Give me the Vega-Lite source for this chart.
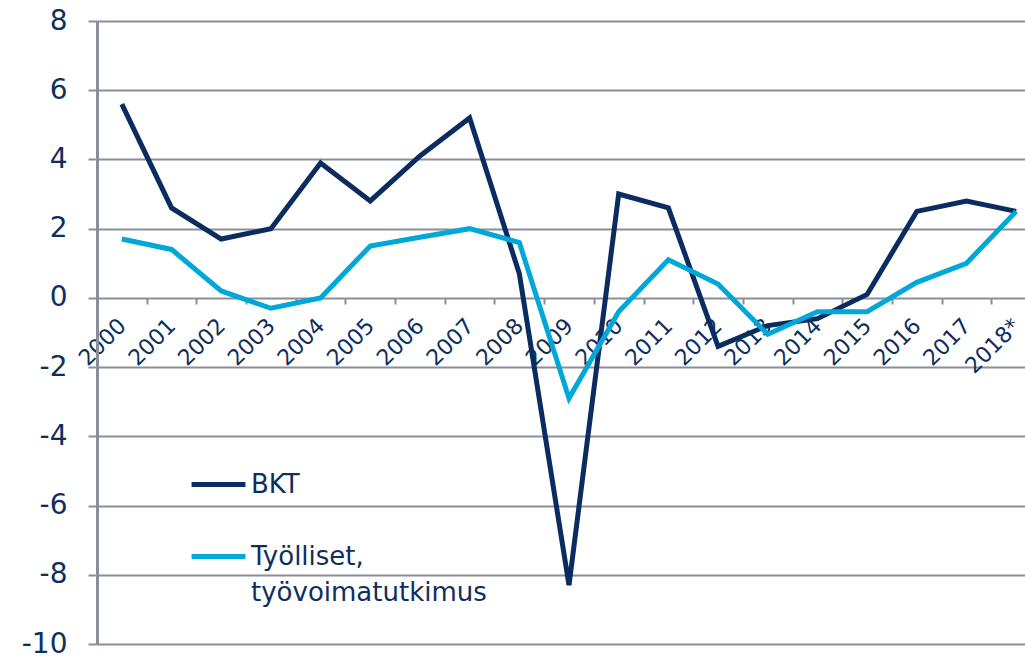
{
  "$schema": "https://vega.github.io/schema/vega-lite/v6.json",
  "autosize": "none",
  "padding": {"left": 97, "top": 21, "right": 0, "bottom": 17},
  "width": 944,
  "height": 623,
  "background": "white",
  "config": {
    "view": {"stroke": null},
    "font": "DejaVu Sans"
  },
  "data": {
    "values": [
      {"year": "2000", "series": "BKT", "value": 5.6},
      {"year": "2001", "series": "BKT", "value": 2.6},
      {"year": "2002", "series": "BKT", "value": 1.7},
      {"year": "2003", "series": "BKT", "value": 2.0},
      {"year": "2004", "series": "BKT", "value": 3.9},
      {"year": "2005", "series": "BKT", "value": 2.8},
      {"year": "2006", "series": "BKT", "value": 4.1},
      {"year": "2007", "series": "BKT", "value": 5.2},
      {"year": "2008", "series": "BKT", "value": 0.7},
      {"year": "2009", "series": "BKT", "value": -8.3},
      {"year": "2010", "series": "BKT", "value": 3.0},
      {"year": "2011", "series": "BKT", "value": 2.6},
      {"year": "2012", "series": "BKT", "value": -1.4},
      {"year": "2013", "series": "BKT", "value": -0.8},
      {"year": "2014", "series": "BKT", "value": -0.6},
      {"year": "2015", "series": "BKT", "value": 0.1},
      {"year": "2016", "series": "BKT", "value": 2.5},
      {"year": "2017", "series": "BKT", "value": 2.8},
      {"year": "2018*", "series": "BKT", "value": 2.5},
      {"year": "2000", "series": "Työlliset", "value": 1.7},
      {"year": "2001", "series": "Työlliset", "value": 1.4},
      {"year": "2002", "series": "Työlliset", "value": 0.2},
      {"year": "2003", "series": "Työlliset", "value": -0.3},
      {"year": "2004", "series": "Työlliset", "value": 0.0},
      {"year": "2005", "series": "Työlliset", "value": 1.5},
      {"year": "2006", "series": "Työlliset", "value": 1.75},
      {"year": "2007", "series": "Työlliset", "value": 2.0},
      {"year": "2008", "series": "Työlliset", "value": 1.6},
      {"year": "2009", "series": "Työlliset", "value": -2.9},
      {"year": "2010", "series": "Työlliset", "value": -0.4},
      {"year": "2011", "series": "Työlliset", "value": 1.1},
      {"year": "2012", "series": "Työlliset", "value": 0.4},
      {"year": "2013", "series": "Työlliset", "value": -1.05},
      {"year": "2014", "series": "Työlliset", "value": -0.4},
      {"year": "2015", "series": "Työlliset", "value": -0.4},
      {"year": "2016", "series": "Työlliset", "value": 0.45},
      {"year": "2017", "series": "Työlliset", "value": 1.0},
      {"year": "2018*", "series": "Työlliset", "value": 2.5}
    ]
  },
  "mark": {"type": "line", "strokeWidth": 5, "strokeJoin": "miter", "strokeCap": "butt"},
  "encoding": {
    "x": {
      "field": "year",
      "type": "ordinal",
      "bandPosition": 0.5,
      "scale": {"type": "band", "paddingInner": 0, "paddingOuter": 0},
      "axis": {
        "title": null,
        "orient": "bottom",
        "offset": -346,
        "domain": false,
        "grid": false,
        "tickBand": "extent",
        "tickSize": 6,
        "tickWidth": 2,
        "tickColor": "#8a8d9a",
        "labelAngle": -45,
        "labelAlign": "right",
        "labelBaseline": "middle",
        "labelPadding": 18,
        "labelFontSize": 22,
        "labelColor": "#0e2f5e",
        "labelFont": "DejaVu Sans"
      }
    },
    "y": {
      "field": "value",
      "type": "quantitative",
      "scale": {"domain": [-10, 8], "nice": false, "zero": false},
      "axis": {
        "title": null,
        "values": [-10, -8, -6, -4, -2, 0, 2, 4, 6, 8],
        "labelExpr": "toString(datum.value)",
        "domain": true,
        "domainColor": "#8a8d9a",
        "domainWidth": 3,
        "grid": true,
        "gridColor": "#8a8d9a",
        "gridWidth": 2,
        "gridOpacity": 1,
        "ticks": true,
        "tickSize": 9,
        "tickWidth": 2,
        "tickColor": "#8a8d9a",
        "labelPadding": 21,
        "labelFontSize": 28,
        "labelColor": "#0e2f5e",
        "labelFont": "DejaVu Sans"
      }
    },
    "color": {
      "field": "series",
      "type": "nominal",
      "scale": {"domain": ["BKT", "Työlliset"], "range": ["#0b2c5f", "#00a8d9"]},
      "legend": {
        "title": null,
        "orient": "none",
        "legendX": 92,
        "legendY": 434,
        "padding": 0,
        "symbolType": "stroke",
        "symbolStrokeWidth": 5,
        "symbolSize": 2900,
        "labelOffset": 3,
        "labelFontSize": 26,
        "labelColor": "#0e2f5e",
        "labelFont": "DejaVu Sans",
        "labelBaseline": "middle",
        "labelExpr": "datum.label == 'BKT' ? 'BKT' : ['Työlliset,', 'työvoimatutkimus']",
        "labelLimit": 400,
        "rowPadding": 29,
        "encode": {"labels": {"update": {"lineHeight": {"value": 36}}}}
      }
    }
  }
}
